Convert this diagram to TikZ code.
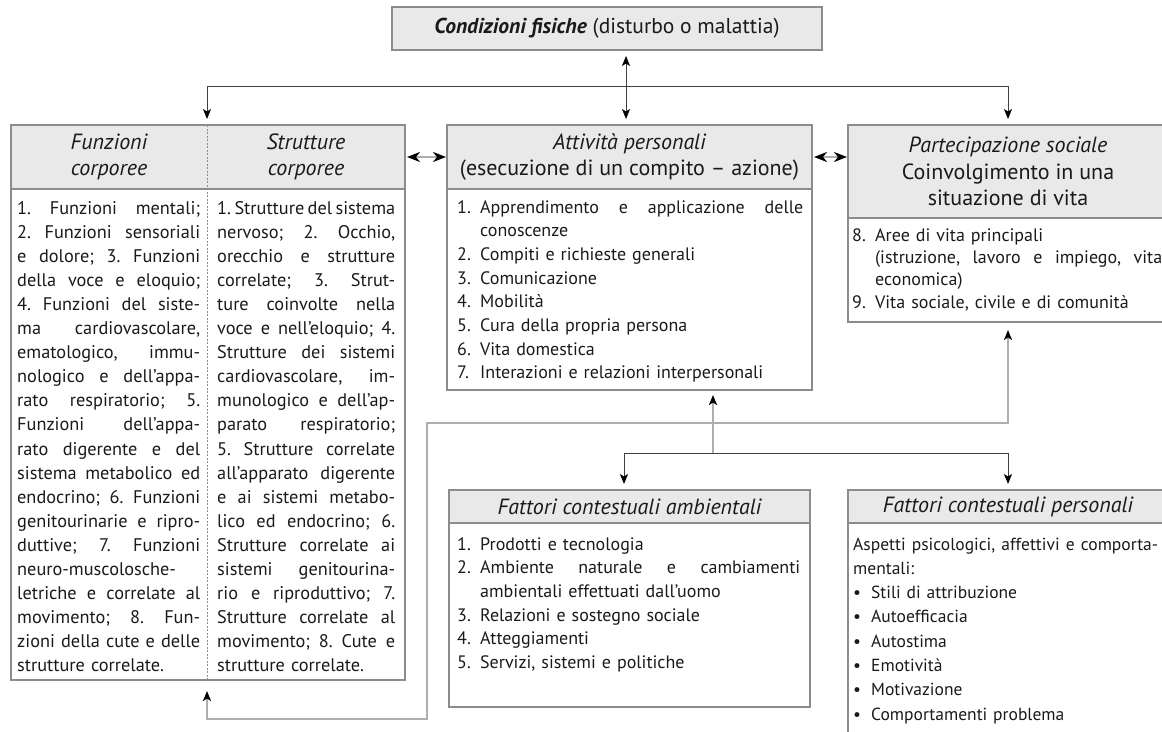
\documentclass[tikz,border=0pt]{standalone}
\usepackage{fontspec}
\setmainfont{PT Sans}
\usetikzlibrary{positioning,arrows.meta}
\definecolor{headgray}{HTML}{E9E9E9}
\definecolor{framegray}{HTML}{8C8C8C}
\definecolor{linegray}{HTML}{AEAEAE}
\definecolor{inkgray}{HTML}{1A1A1A}
\newlength{\numw}
\setlength{\numw}{23pt}
\newdimen\colw
\newcommand{\headfont}{\fontsize{22}{26.5}\selectfont\itshape}
\newcommand{\bodyfont}[2]{\fontsize{#1}{#2}\selectfont}
% justified line: words spread over the full width
\def\jlwords#1 #2\jlend{#1\ifx\relax#2\relax\else\hskip .13em plus 1fill\relax\jlwords#2\jlend\fi}
\newcommand{\jl}[1]{\leavevmode\hbox to\colw{\jlwords#1 \jlend}}
\newcommand{\nitem}[2]{\makebox[\numw][l]{#1}#2}
\newcommand{\njl}[2]{\makebox[\numw][l]{#1}\hbox to\dimexpr\colw-\numw\relax{\jlwords#2 \jlend}}
\newcommand{\bitem}[1]{\makebox[18pt][l]{•}#1}

\begin{document}
\begin{tikzpicture}[
  x=1pt, y=-1pt,
  >={Stealth[length=10pt,width=8pt,inset=2.5pt,color=black]},
  headfill/.style={fill=headgray, inner sep=0pt, outer sep=0pt, align=center, text=inkgray, font=\headfont},
  head/.style={headfill, draw=framegray, line width=1.1pt},
  bodybox/.style={draw=framegray, line width=1.1pt, inner sep=0pt, outer sep=0pt},
  listtext/.style={inner sep=0pt, anchor=base west, align=left, text=inkgray, font=\bodyfont{18}{23.7}},
  coltext/.style={listtext, font=\bodyfont{18.3}{24.1}},
  conn/.style={draw=black!75, line width=0.9pt, shorten <=6pt, shorten >=6pt},
  ctxline/.style={draw=linegray, line width=1.8pt, shorten <=8pt, shorten >=8pt},
  sidearrow/.style={draw=linegray, line width=2pt, <->, shorten <=2pt, shorten >=1pt,
    >={Stealth[length=13pt,width=10pt,inset=4pt,color=black]}},
  divider/.style={draw=framegray, line width=0.8pt, dash pattern=on 2pt off 1.5pt}
]
\useasboundingbox (0,0) rectangle (1162,731);

% physical conditions
\node[head, font=\fontsize{21.5}{24}\selectfont, minimum width=430pt, minimum height=43pt, anchor=north west] (cond) at (392,7)
  {\textbf{\textit{Condizioni fisiche}} (disturbo o malattia)};

% body functions and structures
\node[headfill, minimum width=196pt, minimum height=64pt, anchor=north west] (funz) at (11,125) {Funzioni\\corporee};
\node[headfill, minimum width=198pt, minimum height=64pt, right=0pt of funz] (strut) {Strutture\\corporee};
\node[bodybox, draw=none, minimum width=196pt, minimum height=491pt, below=0pt of funz] (funzbody) {};
\node[bodybox, draw=none, minimum width=198pt, minimum height=491pt, below=0pt of strut] (strutbody) {};
\draw[framegray, line width=1.1pt] (funz.north west) rectangle (strutbody.south east);
\draw[framegray, line width=1.1pt] (funz.south west) -- (strut.south east);
\draw[divider] (funz.north east) -- (funzbody.south east);

\node[coltext, text width=183pt] (funztxt) at (17,214) {\colw=183pt\relax
\jl{1. Funzioni mentali;}\\
\jl{2. Funzioni sensoriali}\\
\jl{e dolore; 3. Funzioni}\\
\jl{della voce e eloquio;}\\
\jl{4. Funzioni del siste-}\\
\jl{ma cardiovascolare,}\\
\jl{ematologico, immu-}\\
\jl{nologico e dell’appa-}\\
\jl{rato respiratorio; 5.}\\
\jl{Funzioni dell’appa-}\\
\jl{rato digerente e del}\\
\jl{sistema metabolico ed}\\
\jl{endocrino; 6. Funzioni}\\
\jl{genitourinarie e ripro-}\\
\jl{duttive; 7. Funzioni}\\
neuro-muscolosche-\\
\jl{letriche e correlate al}\\
\jl{movimento; 8. Fun-}\\
\jl{zioni della cute e delle}\\
strutture correlate.};

\node[coltext, text width=178pt] (struttxt) at (217,214) {\colw=178pt\relax
\jl{1. Strutture del sistema}\\
\jl{nervoso; 2. Occhio,}\\
\jl{orecchio e strutture}\\
\jl{correlate; 3. Strut-}\\
\jl{ture coinvolte nella}\\
\jl{voce e nell’eloquio; 4.}\\
\jl{Strutture dei sistemi}\\
\jl{cardiovascolare, im-}\\
\jl{munologico e dell’ap-}\\
\jl{parato respiratorio;}\\
\jl{5. Strutture correlate}\\
\jl{all’apparato digerente}\\
\jl{e ai sistemi metabo-}\\
\jl{lico ed endocrino; 6.}\\
\jl{Strutture correlate ai}\\
\jl{sistemi genitourina-}\\
\jl{rio e riproduttivo; 7.}\\
\jl{Strutture correlate al}\\
\jl{movimento; 8. Cute e}\\
strutture correlate.};

% personal activities
\node[head, minimum width=365pt, minimum height=64pt, anchor=north west] (att) at (447,125)
  {Attività personali\\\textup{(esecuzione di un compito – azione)}};
\node[bodybox, minimum width=365pt, minimum height=201pt, below=0pt of att] (attbody) {};
\node[listtext, text width=346pt] (atttxt) at (457,213) {\colw=346pt\relax
\njl{1.}{Apprendimento e applicazione delle}\\
\hspace*{\numw}conoscenze\\
\nitem{2.}{Compiti e richieste generali}\\
\nitem{3.}{Comunicazione}\\
\nitem{4.}{Mobilità}\\
\nitem{5.}{Cura della propria persona}\\
\nitem{6.}{Vita domestica}\\
\nitem{7.}{Interazioni e relazioni interpersonali}};

% social participation
\node[head, minimum width=320pt, minimum height=93pt, anchor=north west] (part) at (848,125)
  {Partecipazione sociale\\\textup{Coinvolgimento in una}\\\textup{situazione di vita}};
\node[bodybox, minimum width=320pt, minimum height=104pt, below=0pt of part] (partbody) {};
\node[listtext, text width=310pt, font=\bodyfont{18}{22.4}] (parttxt) at (852,241) {\colw=310pt\relax
\nitem{8.}{Aree di vita principali}\\
\njl{}{(istruzione, lavoro e impiego, vita}\\
\hspace*{\numw}economica)\\
\nitem{9.}{Vita sociale, civile e di comunità}};

% contextual factors
\node[head, minimum width=361pt, minimum height=33pt, anchor=north west] (amb) at (449,490) {Fattori contestuali ambientali};
\node[bodybox, minimum width=361pt, minimum height=184pt, below=0pt of amb] (ambbody) {};
\node[listtext, text width=343pt] (ambtxt) at (457,550) {\colw=343pt\relax
\nitem{1.}{Prodotti e tecnologia}\\
\njl{2.}{Ambiente naturale e cambiamenti}\\
\hspace*{\numw}ambientali effettuati dall’uomo\\
\nitem{3.}{Relazioni e sostegno sociale}\\
\nitem{4.}{Atteggiamenti}\\
\nitem{5.}{Servizi, sistemi e politiche}};

\node[head, minimum width=320pt, minimum height=33pt, anchor=north west] (pers) at (848,490) {Fattori contestuali personali};
\node[bodybox, minimum width=320pt, minimum height=240pt, below=0pt of pers] (persbody) {};
\node[listtext, text width=305pt, font=\bodyfont{17.5}{24.3}] (perstxt) at (853,550) {\colw=305pt\relax
\jl{Aspetti psicologici, affettivi e comporta-}\\
mentali:\\
\bitem{Stili di attribuzione}\\
\bitem{Autoefficacia}\\
\bitem{Autostima}\\
\bitem{Emotività}\\
\bitem{Motivazione}\\
\bitem{Comportamenti problema}};

% connectors
\coordinate (vtop) at (626,86);
\coordinate (busL) at (207,86);
\coordinate (busR) at (1008,86);
\draw[conn,<->] (cond.south -| vtop) -- (att.north -| vtop);
\draw[conn,<->] (busL |- funz.north) -- (busL) -- (busR) -- (busR |- part.north);
\draw[sidearrow] (strut.east) -- (att.west);
\draw[sidearrow] (att.east) -- (att.east -| part.west);

\coordinate (ctxL) at (624,453);
\coordinate (ctxM) at (713,453);
\coordinate (ctxR) at (1008,453);
\draw[conn,<->] (ctxL |- amb.north) -- (ctxL) -- (ctxR) -- (ctxR |- pers.north);
\draw[ctxline,->,shorten <=0pt,shorten >=5pt] (ctxM) -- (ctxM |- attbody.south);

\coordinate (loopA) at (207,719);
\coordinate (loopB) at (427,719);
\coordinate (loopC) at (427,423);
\coordinate (loopD) at (1008,423);
\draw[ctxline,<->,shorten <=11pt] (funzbody.south east) -- (loopA) -- (loopB) -- (loopC) -- (loopD) -- (loopD |- partbody.south);
\end{tikzpicture}
\end{document}
